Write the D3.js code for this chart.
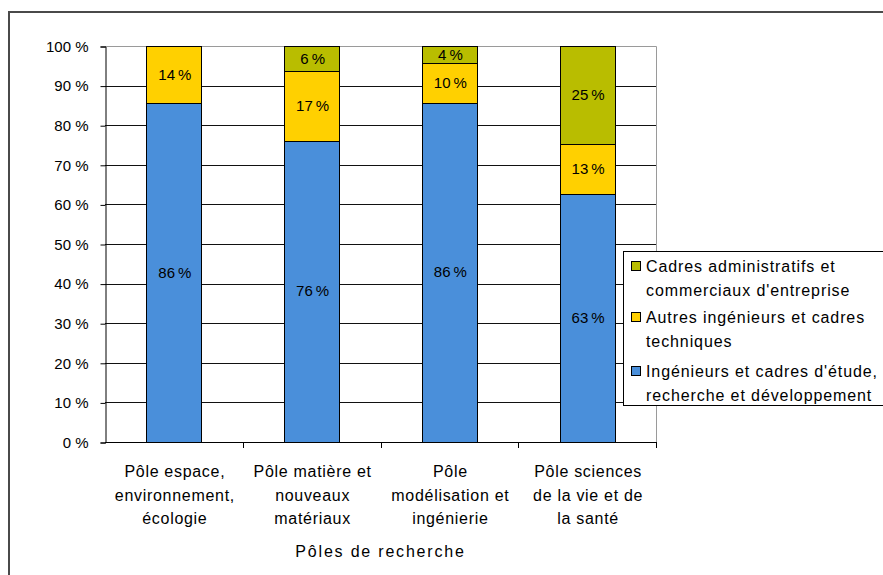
<!DOCTYPE html>
<html lang="fr">
<head>
<meta charset="utf-8">
<title>Pôles de recherche</title>
<script src="https://d3js.org/d3.v7.min.js"></script>
<style>
  body { margin: 0; background: #fff; }
  svg { display: block; font-family: "Liberation Sans", Arial, sans-serif; }
  text { fill: #000; }
</style>
</head>
<body>
<div id="chart"></div>
<script>
// categories (x axis), 3 lines each
var categories = ["espace", "matiere", "modelisation", "sante"];
var categoryLines = [
  ["Pôle espace,", "environnement,", "écologie"],
  ["Pôle matière et", "nouveaux", "matériaux"],
  ["Pôle", "modélisation et", "ingénierie"],
  ["Pôle sciences", "de la vie et de", "la santé"]
];

// shares (percent)
var rdValues     = [85.6, 75.8, 85.7, 62.6];   // Ingénieurs et cadres d'étude, R&D
var autresValues = [14.4, 17.4, 10.0, 12.6];   // Autres ingénieurs et cadres techniques
var adminValues  = [0,    6.4,  4.3,  24.8];   // Cadres administratifs et commerciaux

var seriesNames = ["rd", "autres", "admin"];
var seriesLegend = {
  admin: ["Cadres administratifs et", "commerciaux d'entreprise"],
  autres: ["Autres ingénieurs et cadres", "techniques"],
  rd: ["Ingénieurs et cadres d'étude,", "recherche et développement"]
};
var seriesColors = { rd: "#4a8fda", autres: "#ffd000", admin: "#b9bd00" };

var yTicks = [0, 10, 20, 30, 40, 50, 60, 70, 80, 90, 100];
var xTitle = "Pôles de recherche";

var width = 883, height = 575;
var plot = { left: 105, right: 656, top: 46, bottom: 442 };

var rows = categories.map(function(c, i) {
  return { cat: c, rd: rdValues[i], autres: autresValues[i], admin: adminValues[i] };
});
// 100 % stacked: each column is normalised to 1
var stacked = d3.stack().keys(seriesNames).offset(d3.stackOffsetExpand)(rows);

var svg = d3.select("#chart").append("svg")
  .attr("width", width)
  .attr("height", height);

// outer frame (goes past right and bottom edges)
svg.append("rect")
  .attr("x", 9).attr("y", 12)
  .attr("width", 900).attr("height", 600)
  .attr("fill", "none")
  .attr("stroke", "#4a4a4a")
  .attr("stroke-width", 2);

var x = d3.scaleBand()
  .domain(categories)
  .range([plot.left, plot.right])
  .paddingInner(0.6)
  .paddingOuter(0.3);

var y = d3.scaleLinear()
  .domain([0, 100])
  .range([plot.bottom, plot.top]);

// gridlines
svg.append("g")
  .selectAll("line")
  .data(yTicks.filter(function(d) { return d > 0 && d < 100; }))
  .enter().append("line")
  .attr("x1", plot.left).attr("x2", plot.right)
  .attr("y1", function(d) { return Math.round(y(d)) + 0.5; })
  .attr("y2", function(d) { return Math.round(y(d)) + 0.5; })
  .attr("stroke", "#111");

// plot area top / right border (grey)
svg.append("path")
  .attr("d", "M" + plot.left + "," + (plot.top + 0.5) + "H" + (plot.right + 0.5) + "V" + plot.bottom)
  .attr("fill", "none")
  .attr("stroke", "#9a9a9a");

// bars
svg.append("g")
  .selectAll("g")
  .data(stacked)
  .enter().append("g")
  .attr("fill", function(s) { return seriesColors[s.key]; })
  .selectAll("rect")
  .data(function(s) { return s.filter(function(d) { return d[1] - d[0] > 0; }); })
  .enter().append("rect")
  .attr("x", function(d) { return Math.round(x(d.data.cat)) + 0.5; })
  .attr("y", function(d) { return Math.round(y(d[1] * 100)) + 0.5; })
  .attr("width", Math.round(x.bandwidth()))
  .attr("height", function(d) { return Math.round(y(d[0] * 100)) - Math.round(y(d[1] * 100)); })
  .attr("stroke", "#000");

// data labels
svg.append("g")
  .selectAll("g")
  .data(stacked)
  .enter().append("g")
  .selectAll("text")
  .data(function(s) { return s.filter(function(d) { return d[1] - d[0] > 0; }); })
  .enter().append("text")
  .attr("x", function(d) { return x(d.data.cat) + x.bandwidth() / 2 + 1; })
  .attr("y", function(d) { return y((d[0] + d[1]) * 50) + 5; })
  .attr("text-anchor", "middle")
  .style("font-size", "15px")
  .text(function(d) { return Math.round((d[1] - d[0]) * 100) + "\u2009%"; });

// y axis
var yAxis = d3.axisLeft(y)
  .tickValues(yTicks)
  .tickSize(5)
  .tickPadding(12)
  .tickFormat(function(d) { return d + " %"; });
var gy = svg.append("g")
  .attr("transform", "translate(" + (plot.left + 0.5) + ",0.5)")
  .call(yAxis);
gy.select(".domain").attr("stroke", "#000");
gy.selectAll(".tick line").attr("stroke", "#000");
gy.selectAll(".tick text")
  .style("font-size", "15px")
  .style("font-family", "'Liberation Sans', Arial, sans-serif")
  .attr("fill", "#000");

// x axis: tick marks at category boundaries
var boundaries = categories.map(function(c) { return x(c) - x.step() * x.paddingInner() / 2; })
  .concat([plot.right]);
var gx = svg.append("g");
gx.append("line")
  .attr("x1", plot.left).attr("x2", plot.right + 1)
  .attr("y1", plot.bottom + 0.5).attr("y2", plot.bottom + 0.5)
  .attr("stroke", "#000");
gx.selectAll(".btick")
  .data(boundaries.slice(1))
  .enter().append("line")
  .attr("x1", function(d) { return Math.round(d) + 0.5; })
  .attr("x2", function(d) { return Math.round(d) + 0.5; })
  .attr("y1", plot.bottom).attr("y2", plot.bottom + 6)
  .attr("stroke", "#000");

// category labels
gx.selectAll(".cat")
  .data(categories)
  .enter().append("text")
  .attr("text-anchor", "middle")
  .attr("x", function(c) { return x(c) + x.bandwidth() / 2 + 1; })
  .attr("y", 477)
  .style("font-size", "16px")
  .style("letter-spacing", "0.7px")
  .each(function(c, i) {
    var t = d3.select(this);
    categoryLines[i].forEach(function(line, j) {
      t.append("tspan")
        .attr("x", x(c) + x.bandwidth() / 2 + 1)
        .attr("dy", j === 0 ? 0 : 23.5)
        .text(line);
    });
  });

// axis title
svg.append("text")
  .attr("x", (plot.left + plot.right) / 2)
  .attr("y", 557)
  .attr("text-anchor", "middle")
  .style("font-size", "16px")
  .style("letter-spacing", "1.8px")
  .text(xTitle);

// legend
var legend = svg.append("g");
legend.append("rect")
  .attr("x", 623.5).attr("y", 251.5)
  .attr("width", 300).attr("height", 154)
  .attr("fill", "#fff")
  .attr("stroke", "#000");

var legendOrder = ["admin", "autres", "rd"];
var legendY = [272, 323, 377];
legendOrder.forEach(function(key, i) {
  legend.append("rect")
    .attr("x", 631.5).attr("y", legendY[i] - 10.5)
    .attr("width", 9).attr("height", 9)
    .attr("fill", seriesColors[key])
    .attr("stroke", "#000");
  var t = legend.append("text")
    .attr("x", 646)
    .attr("y", legendY[i])
    .style("font-size", "16px")
    .style("letter-spacing", "0.9px");
  seriesLegend[key].forEach(function(line, j) {
    t.append("tspan")
      .attr("x", 646)
      .attr("dy", j === 0 ? 0 : 23.5)
      .text(line);
  });
});
</script>
</body>
</html>
